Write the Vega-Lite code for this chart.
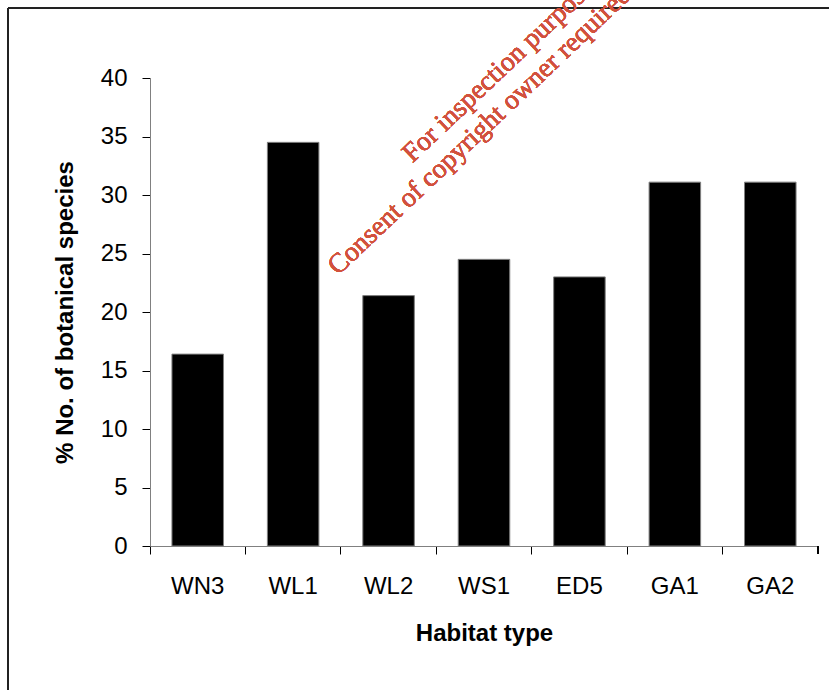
{
  "$schema": "https://vega.github.io/schema/vega-lite/v6.json",
  "width": 668,
  "height": 468,
  "autosize": "none",
  "padding": {"left": 150, "top": 78, "right": 11, "bottom": 144},
  "background": "white",
  "config": {
    "view": {"stroke": null},
    "font": "Liberation Sans"
  },
  "data": {
    "values": [
      {"habitat": "WN3", "pct": 16.4},
      {"habitat": "WL1", "pct": 34.5},
      {"habitat": "WL2", "pct": 21.4},
      {"habitat": "WS1", "pct": 24.5},
      {"habitat": "ED5", "pct": 23.0},
      {"habitat": "GA1", "pct": 31.1},
      {"habitat": "GA2", "pct": 31.1}
    ]
  },
  "layer": [
    {
      "mark": {"type": "bar", "color": "black", "stroke": "#808080", "strokeWidth": 1, "width": {"band": 0.54}},
      "encoding": {
        "x": {
          "field": "habitat", "type": "nominal", "sort": null,
          "scale": {"paddingInner": 0, "paddingOuter": 0},
          "axis": {
            "title": "Habitat type", "labelAngle": 0, "bandPosition": 0,
            "labelFont": "Liberation Sans", "labelFontSize": 24, "labelColor": "black",
            "labelPadding": 20, "tickSize": 8, "tickColor": "black", "domainColor": "#808080",
            "titleFont": "Liberation Sans", "titleFontSize": 24, "titleFontWeight": "bold",
            "titleColor": "black", "titlePadding": 23
          }
        },
        "y": {
          "field": "pct", "type": "quantitative",
          "scale": {"domain": [0, 40], "nice": false},
          "axis": {
            "title": "% No. of botanical species", "values": [0, 5, 10, 15, 20, 25, 30, 35, 40],
            "grid": false, "labelFont": "Liberation Sans", "labelFontSize": 24, "labelColor": "black",
            "labelPadding": 15, "tickSize": 8, "tickColor": "black", "domainColor": "#808080",
            "titleFont": "Liberation Sans", "titleFontSize": 24, "titleFontWeight": "bold",
            "titleColor": "black", "titlePadding": 23
          }
        }
      }
    },
    {
      "mark": {"type": "rule", "color": "black", "strokeWidth": 1},
      "encoding": {
        "x": {"datum": "GA2", "bandPosition": 1},
        "y": {"datum": 0},
        "y2": {"datum": -0.68}
      }
    },
    {
      "mark": {"type": "rule", "color": "#222222", "strokeWidth": 1.2},
      "encoding": {
        "x": {"datum": "WN3", "bandPosition": -1.488},
        "y": {"datum": 45.98},
        "y2": {"datum": -14}
      }
    },
    {
      "mark": {"type": "rule", "color": "#222222", "strokeWidth": 1.2},
      "encoding": {
        "x": {"datum": "WN3", "bandPosition": -1.488},
        "x2": {"datum": "GA2", "bandPosition": 3},
        "y": {"datum": 45.98}
      }
    },
    {
      "mark": {"type": "text", "text": "For inspection purposes only.", "font": "Liberation Serif", "fontSize": 27.5, "color": "#d2513d", "angle": -43.5, "align": "left", "baseline": "alphabetic"},
      "encoding": {
        "x": {"datum": "WL2", "bandPosition": 0.75},
        "y": {"datum": 32.7}
      }
    },
    {
      "mark": {"type": "text", "text": "Consent of copyright owner required for any other use.", "font": "Liberation Serif", "fontSize": 27.5, "color": "#d2513d", "angle": -43.5, "align": "left", "baseline": "alphabetic"},
      "encoding": {
        "x": {"datum": "WL1", "bandPosition": 0.971},
        "y": {"datum": 23.07}
      }
    }
  ]
}
